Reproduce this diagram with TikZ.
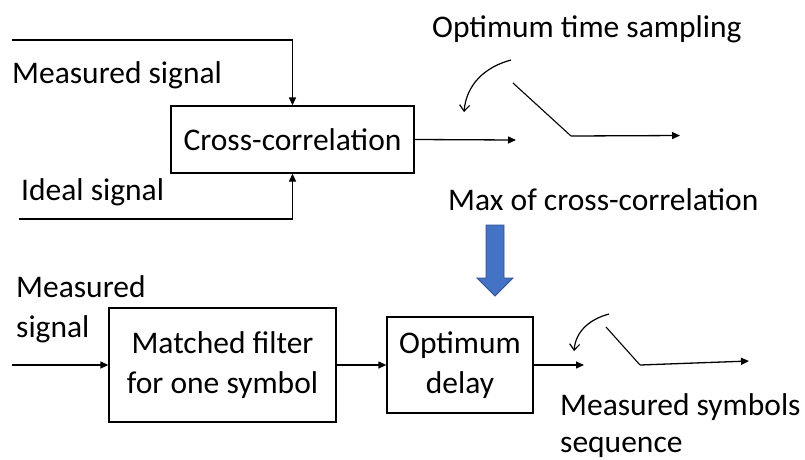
\documentclass[tikz,border=0pt]{standalone}
\usepackage{fontspec}
\setmainfont{Carlito}
\usetikzlibrary{arrows.meta}
\definecolor{arrowblue}{HTML}{4472C4}
\definecolor{arrowedge}{HTML}{2F528F}
\tikzset{
  blockbox/.style={draw, line width=1.3pt, inner sep=0pt, align=center},
  lbl/.style={inner sep=0pt, align=left},
  sig/.style={line width=1.3pt, -{Triangle[length=8pt,width=7pt]}},
  swarm/.style={line width=1.1pt},
  turn/.style={line width=1.2pt, -{Straight Barb[length=6pt,width=10pt]}},
}
\begin{document}
\begin{tikzpicture}[x=1pt, y=-1pt, font=\fontsize{31.5pt}{40pt}\selectfont]
\useasboundingbox (0,0) rectangle (805,459);

% ---- cross-correlation stage ----
\node[blockbox, minimum width=243pt, minimum height=67pt] (cc) at (292.5,139.5) {Cross-correlation};
\node[lbl, anchor=base west] (meas1) at (12,83) {Measured signal};
\node[lbl, anchor=base west] (ideal) at (21,200) {Ideal signal};
\coordinate (inA) at (12,40);
\coordinate (inB) at (19,219);
\draw[sig] (inA) -| (cc.north);
\draw[sig] (inB) -| (cc.south);
\coordinate (ccout) at (516,140);
\draw[sig] (cc.east) -- (ccout);

% sampling switch (top)
\node[lbl, anchor=base west] (samp) at (432,37) {Optimum time sampling};
\coordinate (t1) at (511,60);
\coordinate (t2) at (464,112);
\draw[turn] (t1) to[out=195, in=85] (t2);
\coordinate (s1) at (513,83);
\coordinate (s2) at (571,136);
\coordinate (s3) at (680,135.5);
\draw[swarm] (s1) -- (s2);
\draw[sig] (s2) -- (s3);

% feedback of the correlation peak
\node[lbl, anchor=base west] (maxcc) at (448,210) {Max of cross-correlation};
\draw[fill=arrowblue, draw=arrowedge, line width=0.8pt]
  (486,225) -- (504,225) -- (504,278) -- (513,278) -- (495,296)
  -- (477,278) -- (486,278) -- cycle;

% ---- receiver chain ----
\node[lbl, anchor=base west] (meas2) at (16,337) {Measured\\signal};
\node[blockbox, minimum width=227pt, minimum height=114pt] (mf) at (222.5,365) {Matched filter\\for one symbol};
\node[blockbox, minimum width=146pt, minimum height=96pt] (od) at (460,365) {Optimum\\delay};
\coordinate (in2) at (12,365);
\draw[sig] (in2) -- (mf.west);
\draw[sig] (mf.east) -- (od.west);
\coordinate (odout) at (584,365);
\draw[sig] (od.east) -- (odout);

% sampling switch (bottom)
\coordinate (u1) at (609,314);
\coordinate (u2) at (574,351);
\draw[turn] (u1) to[out=195, in=85] (u2);
\coordinate (w1) at (606,327);
\coordinate (w2) at (640,365);
\coordinate (w3) at (749,361);
\draw[swarm] (w1) -- (w2);
\draw[sig] (w2) -- (w3);
\node[lbl, anchor=base west] (symseq) at (560,415) {Measured symbols};
\node[lbl, anchor=base west] (symseq2) at (560,452) {sequence};
\end{tikzpicture}
\end{document}
